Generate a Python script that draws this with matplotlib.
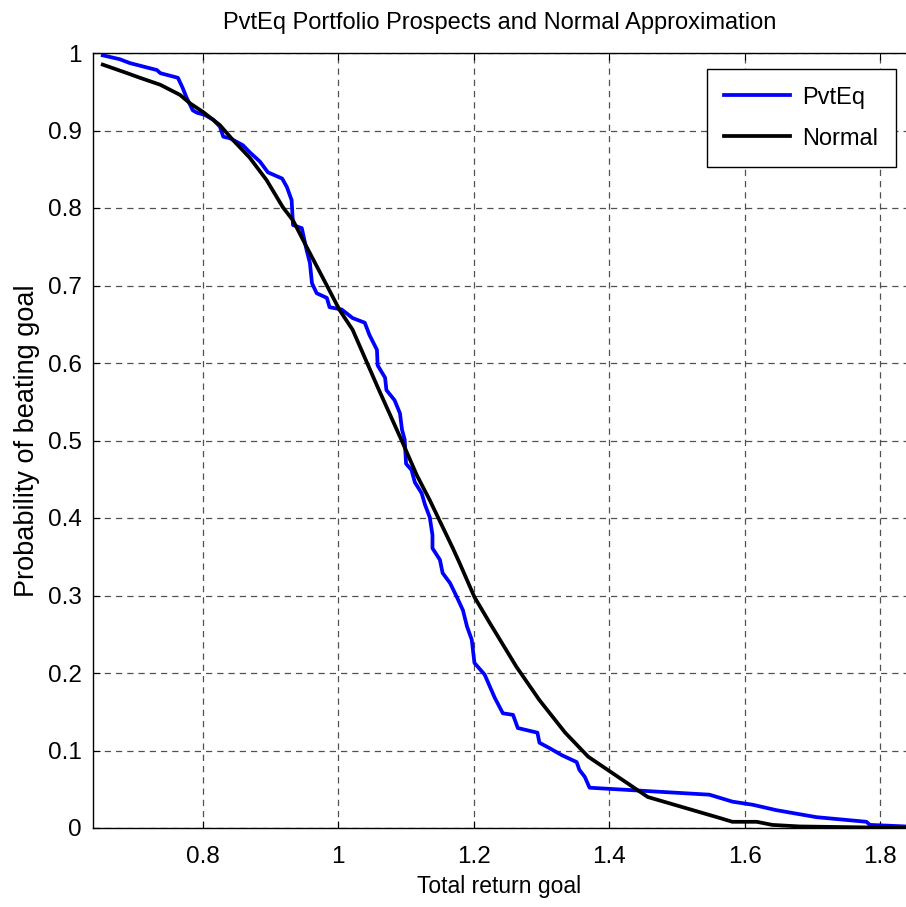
import matplotlib
matplotlib.use("Agg")
import matplotlib.pyplot as plt
from matplotlib import font_manager

names = {f.name for f in font_manager.fontManager.ttflist}
fam = "Liberation Sans Narrow" if "Liberation Sans Narrow" in names else "Liberation Sans"
plt.rcParams["font.family"] = [fam, "DejaVu Sans"]

# ---- data ----
pvteq_x = [0.652, 0.677, 0.692, 0.732, 0.737, 0.763, 0.770, 0.776, 0.785, 0.791,
           0.803, 0.815, 0.825, 0.830, 0.840, 0.859, 0.869, 0.884, 0.896, 0.917,
           0.924, 0.931, 0.933, 0.946, 0.953, 0.958, 0.961, 0.968, 0.983, 0.987,
           1.005, 1.021, 1.039, 1.046, 1.057, 1.058, 1.069, 1.071, 1.083, 1.091,
           1.094, 1.098, 1.100, 1.108, 1.113, 1.123, 1.128, 1.135, 1.139, 1.139,
           1.150, 1.154, 1.165, 1.175, 1.184, 1.190, 1.197, 1.201, 1.216, 1.224,
           1.231, 1.243, 1.258, 1.265, 1.294, 1.297, 1.312, 1.330, 1.352, 1.356,
           1.364, 1.371, 1.548, 1.582, 1.612, 1.647, 1.706, 1.780, 1.785, 1.838]
pvteq_y = [0.997, 0.992, 0.987, 0.978, 0.974, 0.968, 0.955, 0.942, 0.926, 0.923,
           0.920, 0.914, 0.905, 0.892, 0.890, 0.881, 0.872, 0.860, 0.846, 0.838,
           0.827, 0.810, 0.778, 0.774, 0.746, 0.729, 0.703, 0.690, 0.684, 0.672,
           0.669, 0.658, 0.652, 0.636, 0.617, 0.597, 0.581, 0.565, 0.552, 0.535,
           0.514, 0.501, 0.470, 0.462, 0.446, 0.432, 0.417, 0.401, 0.378, 0.361,
           0.346, 0.329, 0.316, 0.298, 0.281, 0.260, 0.243, 0.213, 0.198, 0.182,
           0.168, 0.148, 0.146, 0.129, 0.123, 0.110, 0.103, 0.094, 0.085, 0.075,
           0.066, 0.052, 0.043, 0.034, 0.030, 0.023, 0.014, 0.008, 0.004, 0.002]

normal_x = [0.652, 0.688, 0.707, 0.737, 0.766, 0.781, 0.800, 0.825, 0.844, 0.869,
            0.894, 0.918, 0.933, 0.953, 0.983, 1.002, 1.021, 1.058, 1.095, 1.116,
            1.135, 1.168, 1.179, 1.201, 1.224, 1.263, 1.297, 1.335, 1.369, 1.457,
            1.563, 1.582, 1.618, 1.641, 1.681, 1.838]
normal_y = [0.985, 0.974, 0.968, 0.959, 0.946, 0.935, 0.924, 0.907, 0.888, 0.865,
            0.836, 0.801, 0.784, 0.750, 0.700, 0.668, 0.643, 0.569, 0.497, 0.455,
            0.423, 0.363, 0.342, 0.298, 0.264, 0.208, 0.165, 0.123, 0.092, 0.040,
            0.013, 0.008, 0.008, 0.004, 0.002, 0.000]

x_ticks = [0.8, 1.0, 1.2, 1.4, 1.6, 1.8]
x_labels = ["0.8", "1", "1.2", "1.4", "1.6", "1.8"]
y_ticks = [0, 0.1, 0.2, 0.3, 0.4, 0.5, 0.6, 0.7, 0.8, 0.9, 1.0]
y_labels = ["0", "0.1", "0.2", "0.3", "0.4", "0.5", "0.6", "0.7", "0.8", "0.9", "1"]

title = "PvtEq Portfolio Prospects and Normal Approximation"
xlabel = "Total return goal"
ylabel = "Probability of beating goal"
series_names = ["PvtEq", "Normal"]

# ---- figure ----
W, H = 906, 907
fig = plt.figure(figsize=(W / 100, H / 100), dpi=100)
left, right, top, bottom = 93, 906, 53, 828
ax = fig.add_axes([left / W, 1 - bottom / H, (right - left) / W, (bottom - top) / H])

ax.plot(pvteq_x, pvteq_y, color="#0000FF", lw=2.7, label=series_names[0],
        solid_joinstyle="round")
ax.plot(normal_x, normal_y, color="black", lw=2.7, label=series_names[1],
        solid_joinstyle="round")

ax.set_xlim(0.6376, 1.8384)
ax.set_ylim(0, 1)
ax.set_xticks(x_ticks)
ax.set_xticklabels(x_labels)
ax.set_yticks(y_ticks)
ax.set_yticklabels(y_labels)

ax.grid(True, color="#333333", linestyle=(0, (5, 4)), linewidth=0.9, alpha=0.85)
ax.tick_params(direction="in", length=5, width=0.8, labelsize=17.5,
               top=True, right=False)
ax.tick_params(axis="x", pad=13)
ax.tick_params(axis="y", pad=8)
for s in ["left", "bottom", "top"]:
    ax.spines[s].set_linewidth(1.0)
ax.spines["right"].set_visible(False)

ax.set_title(title, fontsize=17, pad=17)
ax.set_xlabel(xlabel, fontsize=16.5, labelpad=5)
ax.set_ylabel(ylabel, fontsize=19.5, labelpad=6)

leg = ax.legend(loc="upper right", bbox_to_anchor=(896 / W, 1 - 69 / H),
                bbox_transform=fig.transFigure, fontsize=17, frameon=True,
                fancybox=False, edgecolor="black", framealpha=1,
                borderaxespad=0, handlelength=2.8, handletextpad=0.5,
                borderpad=0.75, labelspacing=0.8)
leg.get_frame().set_linewidth(1.0)

fig.savefig("out.png", dpi=100)
